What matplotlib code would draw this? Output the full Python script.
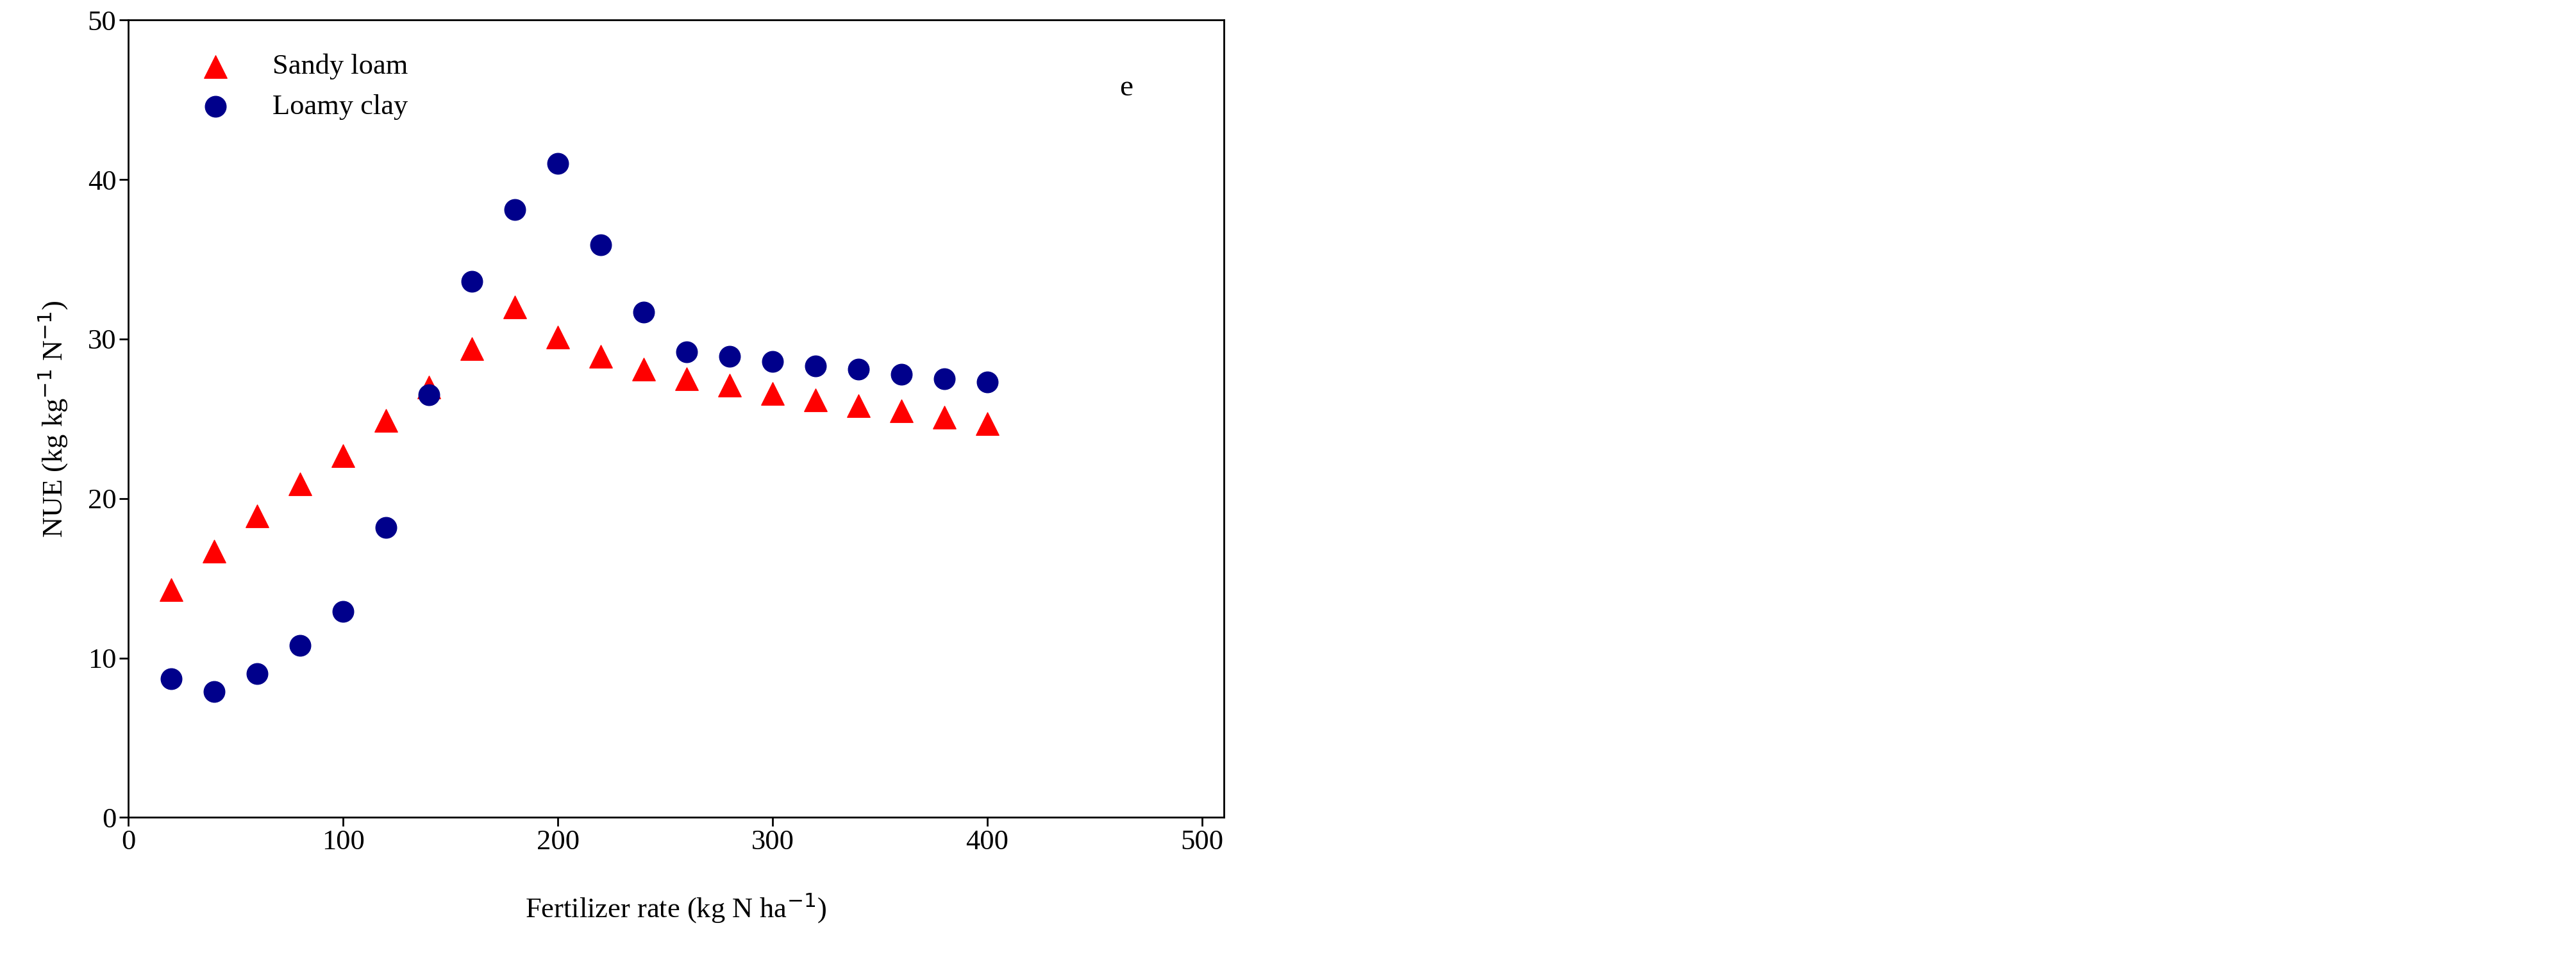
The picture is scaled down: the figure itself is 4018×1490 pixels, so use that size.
import matplotlib
matplotlib.use("Agg")
import matplotlib.pyplot as plt

rates = [20,40,60,80,100,120,140,160,180,200,220,240,260,280,300,320,340,360,380,400]
sandy = [14.3,16.7,18.9,20.9,22.7,24.9,27.0,29.4,32.0,30.1,28.9,28.1,27.5,27.1,26.6,26.2,25.8,25.5,25.1,24.7]
clay = [8.7,7.9,9.0,10.8,12.9,18.2,26.5,33.6,38.1,41.0,35.9,31.7,29.2,28.9,28.6,28.3,28.1,27.8,27.5,27.3]

plt.rcParams['font.family'] = ['Liberation Serif', 'DejaVu Serif']
fig = plt.figure(figsize=(40.18, 14.90), dpi=100)
ax = fig.add_axes([0.0498, 0.144, 0.4252, 0.835])
ax.scatter(rates, sandy, marker='^', s=650, color='#ff0000', label='Sandy loam', zorder=3)
ax.scatter(rates, clay, marker='o', s=550, color='#00008b', label='Loamy clay', zorder=3)
ax.set_xlim(0, 510)
ax.set_ylim(0, 50)
ax.set_xticks([0,100,200,300,400,500])
ax.set_yticks([0,10,20,30,40,50])
ax.tick_params(labelsize=32, length=10, width=2)
for s in ax.spines.values():
    s.set_linewidth(2)
ax.set_xlabel('Fertilizer rate (kg N ha$^{-1}$)', fontsize=32, labelpad=40)
ax.set_ylabel('NUE (kg kg$^{-1}$ N$^{-1}$)', fontsize=32, labelpad=20)
ax.text(0.905, 0.905, 'e', transform=ax.transAxes, fontsize=34)
ax.legend(loc='upper left', frameon=False, fontsize=32, bbox_to_anchor=(0.03, 0.99), handletextpad=1.0)
fig.savefig('out.png', dpi=100)
